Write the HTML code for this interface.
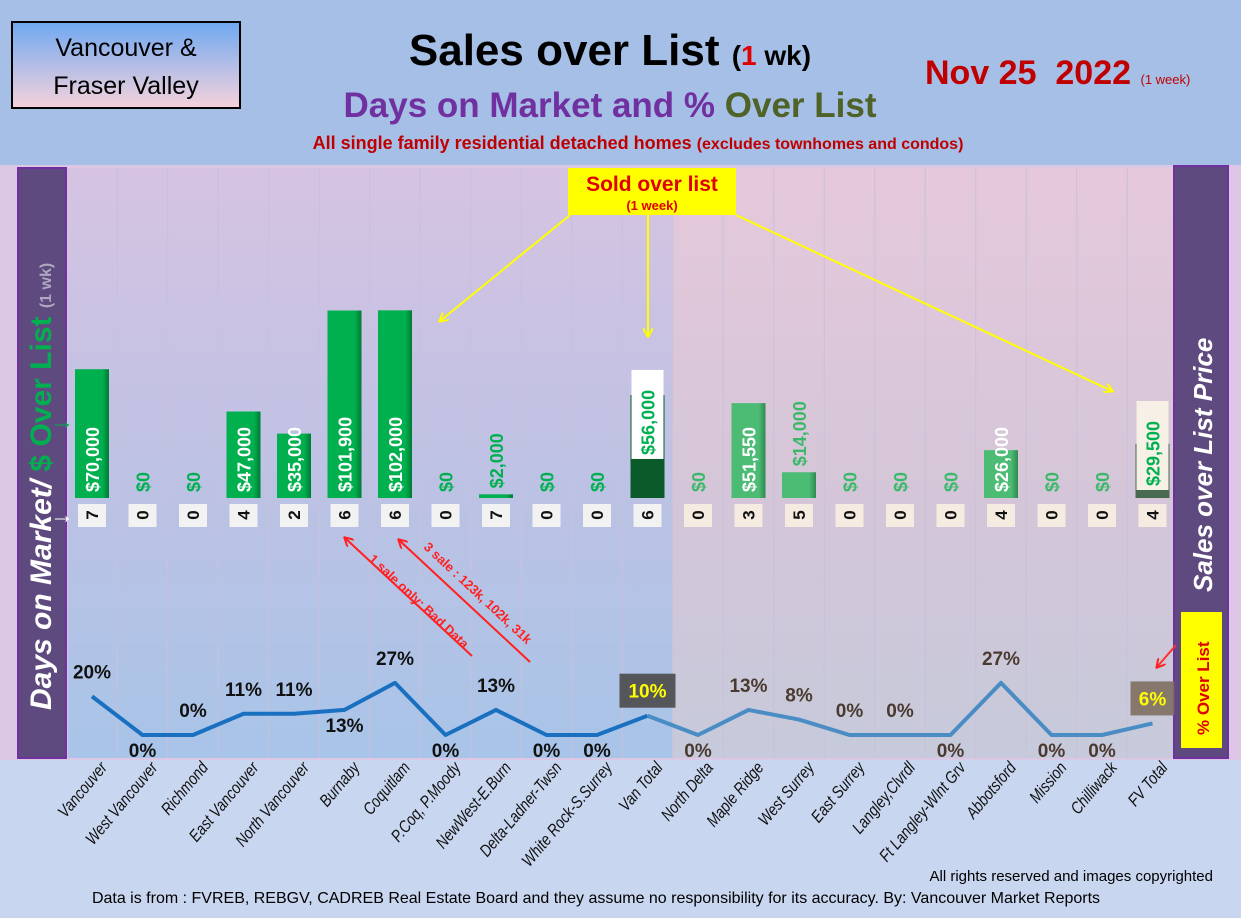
<!DOCTYPE html>
<html><head><meta charset="utf-8">
<style>
body{margin:0;padding:0;width:1241px;height:918px;overflow:hidden;font-family:"Liberation Sans",sans-serif;}
svg{display:block}
text{font-family:"Liberation Sans",sans-serif}
</style></head>
<body>
<svg id="c" width="1241" height="918" viewBox="0 0 1241 918">
<defs>
<linearGradient id="gL" x1="0" y1="0" x2="0" y2="1"><stop offset="0" stop-color="#d6c3e2"/><stop offset="0.55" stop-color="#bcc2e4"/><stop offset="1" stop-color="#a8c4e8"/></linearGradient>
<linearGradient id="gR" x1="0" y1="0" x2="0" y2="1"><stop offset="0" stop-color="#e6c8dc"/><stop offset="0.55" stop-color="#d4c6d8"/><stop offset="1" stop-color="#c6cadb"/></linearGradient>
<linearGradient id="gBox" x1="0" y1="0" x2="0" y2="1"><stop offset="0" stop-color="#6fa8f0"/><stop offset="1" stop-color="#f6d2dc"/></linearGradient>
<linearGradient id="gBar" x1="0" y1="0" x2="1" y2="0"><stop offset="0" stop-color="#00b04e"/><stop offset="0.8" stop-color="#00b04e"/><stop offset="1" stop-color="#007a34"/></linearGradient>
<linearGradient id="gBar2" x1="0" y1="0" x2="1" y2="0"><stop offset="0" stop-color="#4cbb74"/><stop offset="0.8" stop-color="#4cbb74"/><stop offset="1" stop-color="#2e8a50"/></linearGradient>
<marker id="ay" markerWidth="10" markerHeight="10" refX="8" refY="5" orient="auto" markerUnits="userSpaceOnUse"><path d="M0,0 L9,5 L0,10" fill="none" stroke="#ffff00" stroke-width="2"/></marker>
<marker id="ar" markerWidth="10" markerHeight="10" refX="8" refY="5" orient="auto" markerUnits="userSpaceOnUse"><path d="M0,0 L9,5 L0,10" fill="none" stroke="#ff2020" stroke-width="2"/></marker>
</defs>
<rect x="0" y="0" width="1241" height="918" fill="#c9d6ef"/>
<rect x="0" y="0" width="1241" height="165" fill="#a5bfe6"/>
<rect x="0" y="165" width="1241" height="595" fill="#dcc8e4"/>
<rect x="68" y="168" width="604" height="590" fill="url(#gL)"/>
<rect x="672" y="168" width="502" height="590" fill="url(#gR)"/>
<g id="grid"></g>

<rect x="12" y="22" width="228" height="86" fill="url(#gBox)" stroke="#000" stroke-width="2"/>
<text x="126" y="56" font-size="25" text-anchor="middle">Vancouver &amp;</text>
<text x="126" y="94" font-size="25" text-anchor="middle">Fraser Valley</text>
<text x="610" y="65" font-size="44" font-weight="bold" text-anchor="middle">Sales over List <tspan font-size="28">(<tspan fill="#e00000">1</tspan> wk)</tspan></text>
<text x="610" y="117" font-size="35" font-weight="bold" text-anchor="middle" fill="#7030a0">Days on Market and % <tspan fill="#4f6228">Over List</tspan></text>
<text x="638" y="149" font-size="18" font-weight="bold" text-anchor="middle" fill="#c00000">All single family residential detached homes <tspan font-size="16">(excludes townhomes and condos)</tspan></text>
<text x="925" y="84" font-size="34" font-weight="bold" fill="#c00000">Nov 25&#160;&#160;2022&#160;<tspan font-size="13" font-weight="normal">(1 week)</tspan></text>

<rect x="18" y="168" width="48" height="590" fill="#5e4a7e" stroke="#7030a0" stroke-width="2"/>
<text transform="translate(51,710) rotate(-90)" font-size="30" font-weight="bold" font-style="italic" fill="#fff">Days on Market/ <tspan fill="#00b050" font-style="normal">$ Over List</tspan> <tspan font-size="16" fill="#b0a8c0" font-style="normal">(1 wk)</tspan></text>
<text x="50" y="429" font-size="24" fill="#00b050" font-weight="bold">→</text>
<text x="50" y="523" font-size="24" fill="#fff" font-weight="bold">→</text>

<rect x="1174" y="166" width="54" height="592" fill="#5e4a7e" stroke="#7030a0" stroke-width="2"/>
<text transform="translate(1212,592) rotate(-90)" font-size="26" font-weight="bold" font-style="italic" fill="#fff">Sales over List Price</text>
<rect x="1181" y="612" width="41" height="136" fill="#ffff00"/>
<text transform="translate(1209,735) rotate(-90)" font-size="17" font-weight="bold" fill="#e00000">% Over List</text>
<line x1="1176" y1="645" x2="1157" y2="667" stroke="#ff3030" stroke-width="2" marker-end="url(#ar)"/>

<g id="marks"></g>

<rect x="568" y="168" width="168" height="47" fill="#ffff00"/>
<text x="652" y="191" font-size="21" font-weight="bold" fill="#e00000" text-anchor="middle">Sold over list</text>
<text x="652" y="210" font-size="13" font-weight="bold" fill="#e00000" text-anchor="middle">(1 week)</text>
<line x1="570" y1="215" x2="440" y2="321" stroke="#ffff00" stroke-width="2" marker-end="url(#ay)"/>
<line x1="648" y1="215" x2="648" y2="336" stroke="#ffff00" stroke-width="2" marker-end="url(#ay)"/>
<line x1="736" y1="215" x2="1112" y2="391" stroke="#ffff00" stroke-width="2" marker-end="url(#ay)"/>

<line x1="472" y1="656" x2="345" y2="538" stroke="#ff2020" stroke-width="2" marker-end="url(#ar)"/>
<line x1="530" y1="662" x2="399" y2="540" stroke="#ff2020" stroke-width="2" marker-end="url(#ar)"/>
<text transform="translate(368,560) rotate(43)" font-size="13" font-weight="bold" fill="#ff2020">1 sale only: Bad Data</text>
<text transform="translate(423,548) rotate(43)" font-size="13" font-weight="bold" fill="#ff2020">3 sale : 123k, 102k, 31k</text>

<g id="xlabels"></g>
<text x="1213" y="881" font-size="15" text-anchor="end">All rights reserved and  images copyrighted</text>
<text x="596" y="903" font-size="16" text-anchor="middle">Data is from : FVREB, REBGV, CADREB Real Estate Board and they assume no responsibility for its accuracy. By: Vancouver Market Reports</text>
</svg>
<script>
const categories=["Vancouver","West Vancouver","Richmond","East Vancouver","North Vancouver","Burnaby","Coquitlam","P.Coq, P.Moody","NewWest-E.Burn","Delta-Ladner-Twsn","White Rock-S.Surrey","Van Total","North Delta","Maple Ridge","West Surrey","East Surrey","Langley,Clvrdl","Ft Langley-Wlnt Grv","Abbotsford","Mission","Chilliwack","FV Total"];
const overList=[70000,0,0,47000,35000,101900,102000,0,2000,0,0,56000,0,51550,14000,0,0,0,26000,0,0,29500];
const daysOnMarket=[7,0,0,4,2,6,6,0,7,0,0,6,0,3,5,0,0,0,4,0,0,4];
const pctOverList=[20,0,0,11,11,13,27,0,13,0,0,10,0,13,8,0,0,0,27,0,0,6];
const pctLabelSide=["a","b","a","a","a","b","a","b","a","b","b","a","b","a","a","a","a","b","a","b","b","a"];

const NS="http://www.w3.org/2000/svg";
const x0=92, step=50.5, base=498, pxPer=1.84/1000, pct0=735, pxPct=1.93;
const X=i=>x0+i*step, Yb=v=>base-v*pxPer, Yp=v=>pct0-v*pxPct;
function mk(tag,attrs,parent,txt){const e=document.createElementNS(NS,tag);for(const k in attrs)e.setAttribute(k,attrs[k]);if(txt!==undefined)e.textContent=txt;parent.appendChild(e);return e;}
const g=document.getElementById('marks'), grid=document.getElementById('grid'), xl=document.getElementById('xlabels');
for(let i=0;i<=categories.length;i++){const l=mk('line',{x1:X(i)-step/2,x2:X(i)-step/2,y1:168,y2:758,stroke:'#c8c0dc','stroke-width':1},grid);

}
categories.forEach((c,i)=>{
  const x=X(i), v=overList[i], fv=i>11, tot=(i===11||i===21);
  const top=Yb(v), h=base-top;
  if(v>0){
    const fill=tot?(i===11?'#0a5a2a':'#4a6a50'):(fv?'url(#gBar2)':'url(#gBar)');
    const r=mk('rect',{x:x-17,y:top,width:34,height:Math.max(h,3),fill:fill},g);
    
    
  }
  const lab='$'+v.toLocaleString('en-US');
  let ty, col;
  if(tot){
    const bh=89, by=(i===11)?top-25:base-8-bh;
    const bx=mk('rect',{x:x-16,y:by,width:32,height:bh,fill:i===11?'#ffffff':'#f6f0e6'},g);
    
    
    ty=by+bh-4; col='#00b050';
  } else if(v>=25000){ty=base-6;col='#ffffff';}
  else {ty=top-6;col=fv?'#3cb86a':'#00b050';}
  const t=mk('text',{transform:`translate(${x+7},${ty}) rotate(-90)`,'font-size':18,'font-weight':'bold',fill:col},g,lab);
  
  
  const db=mk('rect',{x:x-14,y:504,width:28,height:23,fill:fv?'#f6ebe0':'#f2f2f2'},g);
  
  
  const dt=mk('text',{transform:`translate(${x+6},515) rotate(-90)`,'font-size':17,'font-weight':'bold','text-anchor':'middle',fill:'#111'},g,daysOnMarket[i]);
  
  
  const xt=mk('text',{transform:`translate(${x+16},768) rotate(-50) scale(0.82,1)`,'font-size':17,'font-style':'italic','text-anchor':'end',fill:'#111'},xl,c);
  
  
});
function seg(a,b,color,name){let d='';for(let i=a;i<=b;i++)d+=(i===a?'M':'L')+X(i)+','+Yp(pctOverList[i]);
 const p=mk('path',{d:d,fill:'none',stroke:color,'stroke-width':4,'stroke-linejoin':'round'},g);
 
 }
seg(0,11,'#1a70c0','pct-line-vancouver');
seg(11,21,'#4a8cc4','pct-line-fraser-valley');
pctOverList.forEach((p,i)=>{
  const x=X(i), y=Yp(p), tot=(i===11||i===21), fv=i>11;
  const ly=pctLabelSide[i]==='a'?y-18:y+22;
  if(tot){const b=mk('rect',{x:x-(i===11?28:22),y:ly-24,width:i===11?56:44,height:34,fill:i===11?'#4a4a4a':'#7f6f60',opacity:0.9},g);
    
    }
  const t=mk('text',{x:x,y:ly,'font-size':19,'font-weight':'bold','text-anchor':'middle',fill:tot?'#ffff00':(fv?'#4a3a30':'#111')},g,p+'%');
  
  
});
</script>
</body></html>
